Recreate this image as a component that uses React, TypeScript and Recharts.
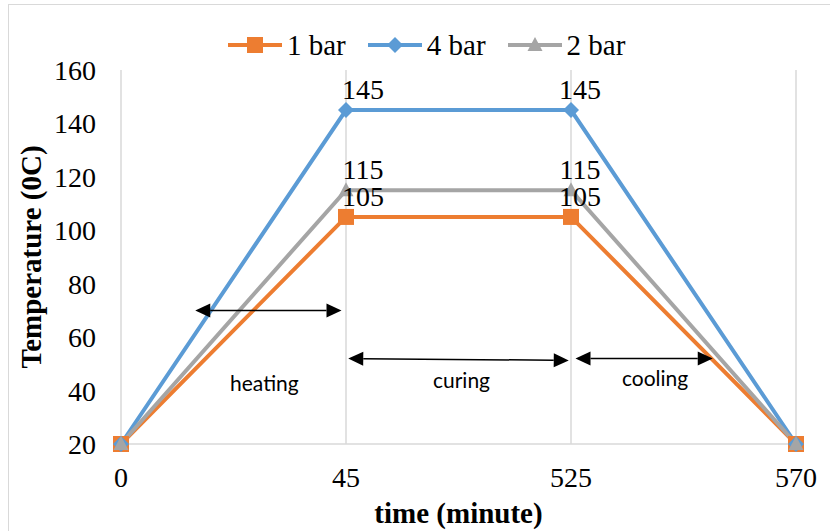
import React from "react";
import {
  LineChart,
  Line,
  XAxis,
  YAxis,
  CartesianGrid,
  Legend,
  ReferenceLine,
  Label,
} from "recharts";

const times = ["0", "45", "525", "570"];
const oneBar = [20, 105, 105, 20];
const fourBar = [20, 145, 145, 20];
const twoBar = [20, 115, 115, 20];
const yTicks = [20, 40, 60, 80, 100, 120, 140, 160];
const seriesNames = ["1 bar", "4 bar", "2 bar"];
const phaseNames = ["heating", "curing", "cooling"];

const ORANGE = "#ED7D31";
const BLUE = "#5B9BD5";
const GRAY = "#A5A5A5";
const GRID = "#D9D9D9";
const SERIF = '"Liberation Serif", "Times New Roman", serif';
const SANS = 'Lato, "Noto Sans", sans-serif';

const data = times.map((t, i) => ({
  idx: i,
  time: t,
  b1: oneBar[i],
  b4: fourBar[i],
  b2: twoBar[i],
}));

type Marker = "square" | "diamond" | "triangle";

function markerShape(kind: Marker, cx: number, cy: number, color: string) {
  if (kind === "square") {
    return <rect x={cx - 8} y={cy - 8} width={16} height={16} fill={color} />;
  }
  if (kind === "diamond") {
    return (
      <polygon
        points={`${cx},${cy - 8} ${cx + 8},${cy} ${cx},${cy + 8} ${cx - 8},${cy}`}
        fill={color}
      />
    );
  }
  return (
    <polygon
      points={`${cx},${cy - 8} ${cx + 7.5},${cy + 6} ${cx - 7.5},${cy + 6}`}
      fill={color}
    />
  );
}

const makeDot = (kind: Marker, color: string) => (p: any) => (
  <g key={`dot-${kind}-${p.index}`}>{markerShape(kind, p.cx, p.cy, color)}</g>
);

// value labels only on the plateau points
const plateauLabel = (p: any) => {
  const x = p.x ?? p.viewBox?.x;
  const y = p.y ?? p.viewBox?.y;
  if (p.index !== 1 && p.index !== 2) return null;
  const dx = p.index === 1 ? 17 : 9;
  return (
    <text
      key={`lbl-${p.index}-${p.value}`}
      x={x + dx}
      y={y - 11}
      textAnchor="middle"
      fontFamily={SERIF}
      fontSize={28}
      fill="#000"
    >
      {p.value}
    </text>
  );
};

// double-headed arrow with a caption underneath
const phaseArrow = (caption: string, dx: number, dy: number) => (p: any) => {
  const { x1, y1, x2, y2 } = p;
  const a = Math.atan2(y2 - y1, x2 - x1);
  const head = 15;
  const half = 7;
  const cos = Math.cos(a);
  const sin = Math.sin(a);
  const tip = (x: number, y: number, dir: number) => {
    const bx = x - dir * head * cos;
    const by = y - dir * head * sin;
    return `${x},${y} ${bx - half * sin},${by + half * cos} ${bx + half * sin},${by - half * cos}`;
  };
  return (
    <g>
      <line
        x1={x1 + head * cos}
        y1={y1 + head * sin}
        x2={x2 - head * cos}
        y2={y2 - head * sin}
        stroke="#000"
        strokeWidth={1.5}
      />
      <polygon points={tip(x1, y1, -1)} fill="#000" />
      <polygon points={tip(x2, y2, 1)} fill="#000" />
      <text
        x={(x1 + x2) / 2 + dx}
        y={(y1 + y2) / 2 + dy}
        textAnchor="middle"
        dominantBaseline="central"
        fontFamily={SANS}
        fontSize={21}
        fill="#000"
      >
        {caption}
      </text>
    </g>
  );
};

const legendItems: { name: string; color: string; kind: Marker }[] = [
  { name: seriesNames[0], color: ORANGE, kind: "square" },
  { name: seriesNames[1], color: BLUE, kind: "diamond" },
  { name: seriesNames[2], color: GRAY, kind: "triangle" },
];

const renderLegend = () => (
  <div style={{ display: "flex", alignItems: "center", fontFamily: SERIF, fontSize: 29 }}>
    {legendItems.map((it) => (
      <div key={it.name} style={{ display: "flex", alignItems: "center", marginRight: 22 }}>
        <svg width={54} height={30}>
          <line x1={0} y1={15} x2={54} y2={15} stroke={it.color} strokeWidth={4} />
          {markerShape(it.kind, 27, 15, it.color)}
        </svg>
        <span style={{ marginLeft: 5, lineHeight: "30px", whiteSpace: "nowrap" }}>{it.name}</span>
      </div>
    ))}
  </div>
);

const yTitle = (p: any) => {
  const vb = p.viewBox;
  const cy = vb.y + vb.height / 2;
  return (
    <text
      x={41}
      y={cy}
      transform={`rotate(-90, 41, ${cy})`}
      textAnchor="middle"
      fontFamily={SERIF}
      fontSize={29}
      fontWeight="bold"
      fill="#000"
    >
      Temperature (0C)
    </text>
  );
};

export default function App() {
  return (
    <div
      style={{
        position: "absolute",
        left: 0,
        top: 0,
        width: 830,
        height: 531,
        overflow: "hidden",
        background: "#fff",
      }}
    >
      <div
        style={{
          position: "absolute",
          left: 8,
          top: 4,
          width: 840,
          height: 560,
          border: `1px solid ${GRID}`,
        }}
      />
      <LineChart
        width={830}
        height={531}
        data={data}
        margin={{ top: 70, right: 34, left: 0, bottom: 0 }}
      >
        <CartesianGrid horizontal={false} stroke={GRID} strokeWidth={1.5} />
        <XAxis
          dataKey="idx"
          type="number"
          domain={[0, 3]}
          ticks={[0, 1, 2, 3]}
          tickFormatter={(v: number) => times[v]}
          height={87}
          axisLine={{ stroke: GRID, strokeWidth: 1.5 }}
          tickLine={false}
          tickSize={0}
          tickMargin={23}
          tick={{ fontFamily: SERIF, fontSize: 28, fill: "#000" }}
        >
          <Label
            value="time (minute)"
            position="insideBottom"
            offset={8}
            style={{ fontFamily: SERIF, fontSize: 29, fontWeight: "bold", fill: "#000" }}
          />
        </XAxis>
        <YAxis
          width={121}
          domain={[20, 160]}
          ticks={yTicks}
          axisLine={false}
          tickLine={false}
          tickSize={0}
          tickMargin={25}
          tick={{ fontFamily: SERIF, fontSize: 28, fill: "#000" }}
        >
          <Label content={yTitle} />
        </YAxis>
        <Legend verticalAlign="middle" wrapperStyle={{ top: 30, left: 228, width: 460 }} content={renderLegend} />
        <Line
          dataKey="b1"
          name={seriesNames[0]}
          stroke={ORANGE}
          strokeWidth={4}
          dot={makeDot("square", ORANGE)}
          activeDot={false}
          label={plateauLabel}
          isAnimationActive={false}
        />
        <Line
          dataKey="b4"
          name={seriesNames[1]}
          stroke={BLUE}
          strokeWidth={4}
          dot={makeDot("diamond", BLUE)}
          activeDot={false}
          label={plateauLabel}
          isAnimationActive={false}
        />
        <Line
          dataKey="b2"
          name={seriesNames[2]}
          stroke={GRAY}
          strokeWidth={4}
          dot={makeDot("triangle", GRAY)}
          activeDot={false}
          label={plateauLabel}
          isAnimationActive={false}
        />
        <ReferenceLine
          segment={[{ x: 0.33, y: 70 }, { x: 0.98, y: 70 }]}
          shape={phaseArrow(phaseNames[0], -4, 72)}
        />
        <ReferenceLine
          segment={[{ x: 1.01, y: 52 }, { x: 1.99, y: 51.3 }]}
          shape={phaseArrow(phaseNames[1], 3, 20)}
        />
        <ReferenceLine
          segment={[{ x: 2.02, y: 52 }, { x: 2.63, y: 52 }]}
          shape={phaseArrow(phaseNames[2], 11, 19)}
        />
      </LineChart>
    </div>
  );
}
